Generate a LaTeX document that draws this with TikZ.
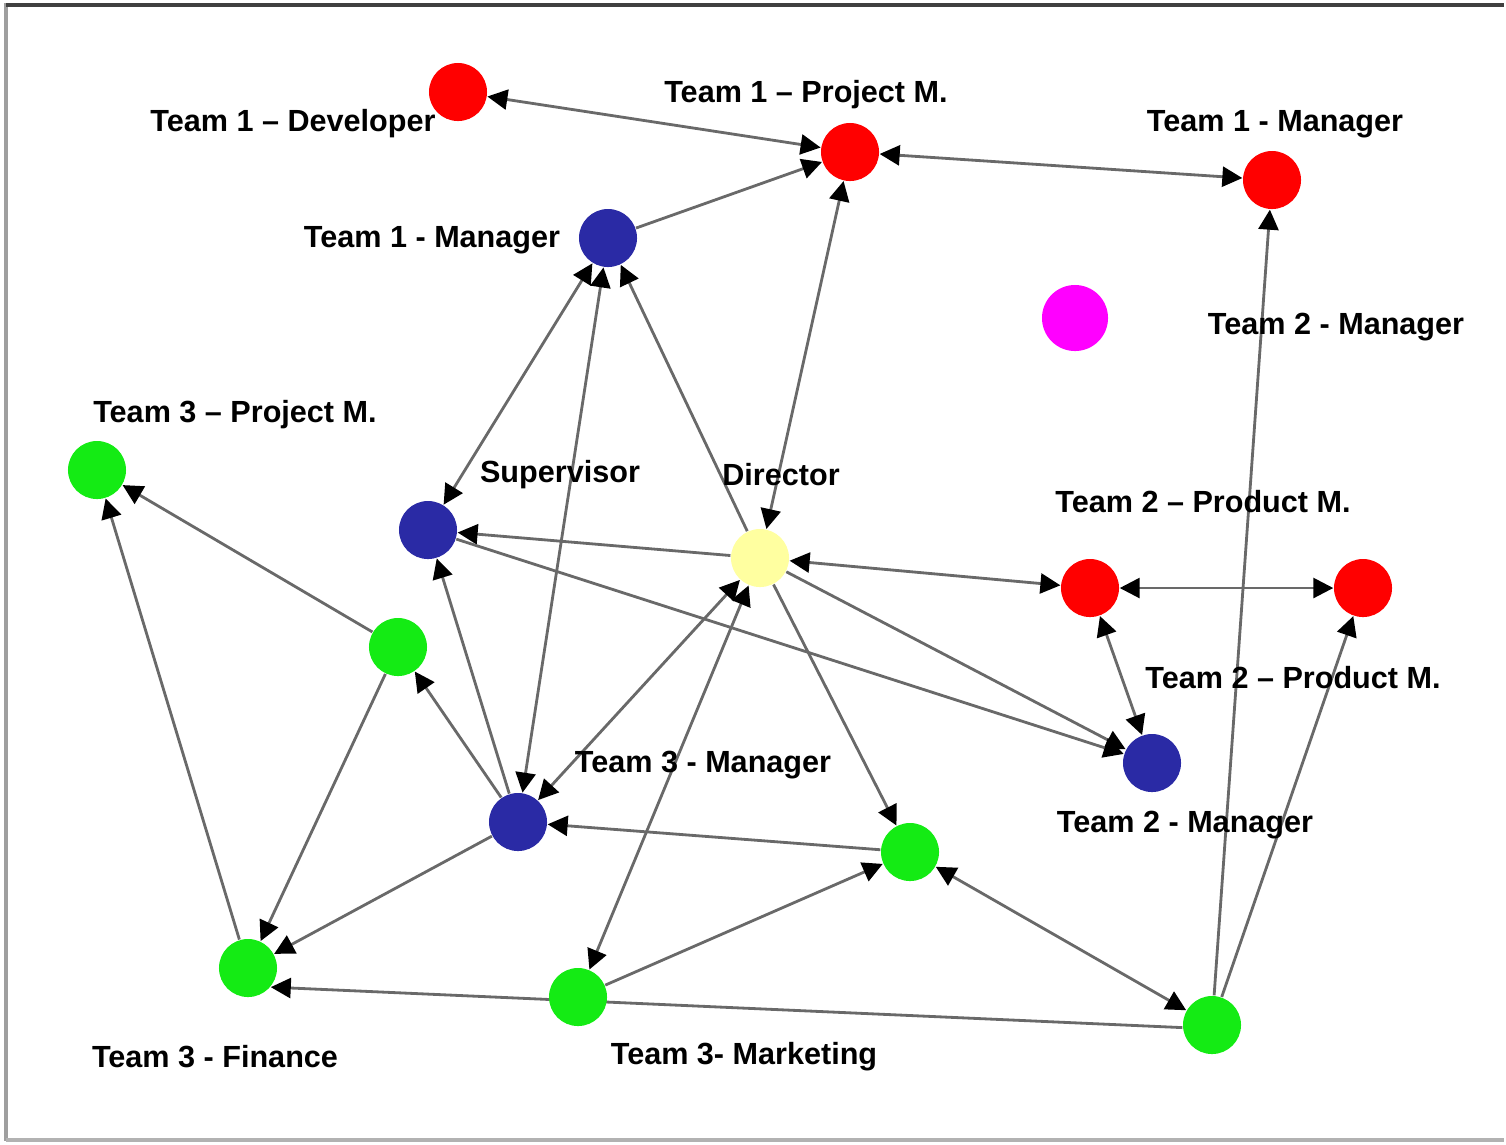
\documentclass[tikz,border=0pt]{standalone}
\usepackage{fontspec}
\setmainfont{Liberation Sans}
\usepackage{xcolor}
\usetikzlibrary{arrows.meta, backgrounds}

\definecolor{memred}{RGB}{255,0,0}
\definecolor{memblue}{RGB}{42,42,165}
\definecolor{memgreen}{RGB}{20,235,20}
\definecolor{memyellow}{RGB}{255,255,160}
\definecolor{memmagenta}{RGB}{255,0,255}
\definecolor{linkgray}{RGB}{105,105,105}

\tikzset{
	member/.style={circle, minimum size=0.58cm, inner sep=0pt},
	role/.style={font=\fontsize{8.7}{10}\selectfont\bfseries, inner sep=0pt},
	link/.style={linkgray, line width=0.8pt},
	>={Triangle[color=black, length=0.2cm, width=0.2cm]}
}

\begin{document}
\begin{tikzpicture}[x=0.01cm, y=-0.01cm]
			\useasboundingbox (0,0) rectangle (1506,1144);
			% frame
			\draw[gray!75, line width=1.4pt] (6,3) -- (6,1141);
			\draw[gray!60, line width=1.2pt] (6,1140) -- (1504,1140);
			\draw[black!75, line width=0.9pt] (6,5) -- (1504,5);
			
			% team members
			\node[member, fill=memred] (dev1) at (458,92) {};
			\node[member, fill=memred] (proj1) at (850,152) {};
			\node[member, fill=memred] (lead1) at (1272,180) {};
			\node[member, fill=memblue] (mgr1) at (608,238) {};
			\node[member, fill=memmagenta, minimum size=0.66cm] (blob) at (1075,318) {};
			\node[member, fill=memgreen] (proj3) at (97,470) {};
			\node[member, fill=memblue] (sup) at (428,530) {};
			\node[member, fill=memyellow] (dir) at (760,558) {};
			\node[member, fill=memred] (prod2a) at (1090,588) {};
			\node[member, fill=memred] (prod2b) at (1363,588) {};
			\node[member, fill=memgreen] (aide3) at (398,647) {};
			\node[member, fill=memblue] (mgr2) at (1152,763) {};
			\node[member, fill=memblue] (mgr3) at (518,822) {};
			\node[member, fill=memgreen] (staff3) at (910,852) {};
			\node[member, fill=memgreen] (fin3) at (248,968) {};
			\node[member, fill=memgreen] (mkt3) at (578,997) {};
			\node[member, fill=memgreen] (staff2) at (1212,1025) {};
			
			% labels
			\node[role] (ldev1) at (293,124) {Team 1 – Developer};
			\node[role] (lproj1) at (806,95) {Team 1 – Project M.};
			\node[role] (llead1) at (1275,124) {Team 1 - Manager};
			\node[role] (lmgr1) at (432,240) {Team 1 - Manager};
			\node[role] (lstaff2) at (1336,327) {Team 2 - Manager};
			\node[role] (lproj3) at (235,415) {Team 3 – Project M.};
			\node[role] (lsup) at (560,475) {Supervisor};
			\node[role] (ldir) at (781,475) {Director};
			\node[role] (lprod2a) at (1203,502) {Team 2 – Product M.};
			\node[role] (lprod2b) at (1293,678) {Team 2 – Product M.};
			\node[role] (lmgr3) at (703,765) {Team 3 - Manager};
			\node[role] (lmgr2) at (1185,825) {Team 2 - Manager};
			\node[role] (lfin3) at (215,1057) {Team 3 - Finance};
			\node[role] (lmkt3) at (744,1057) {Team 3- Marketing};
			
			% links
			\begin{scope}[on background layer]
				\foreach \a/\b in {mgr1/proj1, staff2/lead1, dir/mgr1, dir/sup, dir/mgr2, sup/mgr2,
					dir/staff3, mgr3/sup, mgr3/aide3, mgr3/fin3, staff3/mgr3, aide3/proj3,
					aide3/fin3, fin3/proj3, mkt3/staff3, staff2/prod2b}
				\draw[link, ->] (\a) -- (\b);
				\foreach \a/\b in {dev1/proj1, proj1/lead1, proj1/dir, mgr1/sup, mgr1/mgr3,
					dir/prod2a, prod2a/prod2b, prod2a/mgr2, dir/mgr3, dir/mkt3, staff2/staff3}
				\draw[link, <->] (\a) -- (\b);
				\draw[link, ->] (staff2.185) -- (fin3.-40);
			\end{scope}
		\end{tikzpicture}
\end{document}
